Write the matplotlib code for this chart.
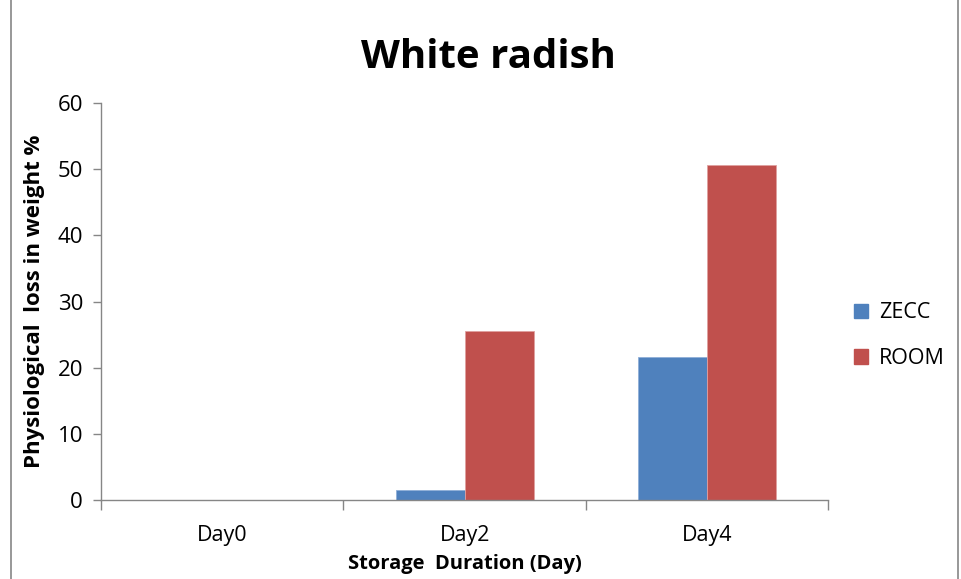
import matplotlib.pyplot as plt
import matplotlib.patches as mpatches
import numpy as np

days = ["Day0", "Day2", "Day4"]
zecc = [0, 1.5, 21.6]
room = [0, 25.5, 50.6]

plt.rcParams['font.family'] = ['Open Sans', 'DejaVu Sans']

fig = plt.figure(figsize=(9.62, 5.79), dpi=100)
ax = fig.add_axes([0.105, 0.1364, 0.756, 0.6856])

x = np.arange(len(days))
w = 0.285
ax.bar(x - w / 2, zecc, w, color="#4F81BD", edgecolor="#8FAFD8", linewidth=0.6, label="ZECC")
ax.bar(x + w / 2, room, w, color="#C0504D", edgecolor="#E0A0A0", linewidth=0.6, label="ROOM")

ax.set_xlim(-0.5, 2.5)
ax.set_ylim(0, 60)
ax.set_yticks(range(0, 61, 10))
ax.set_xticks([-0.5, 0.5, 1.5, 2.5])
ax.set_xticklabels([])
ax.set_xticks(x, minor=True)
ax.set_xticklabels(days, minor=True)
ax.tick_params(axis="x", which="major", length=7, color="#868686", width=1)
ax.tick_params(axis="x", which="minor", length=0, pad=18, labelsize=15.5)
ax.tick_params(axis="y", length=6, color="#868686", width=1, labelsize=16, pad=7)

for s in ["top", "right"]:
    ax.spines[s].set_visible(False)
for s in ["left", "bottom"]:
    ax.spines[s].set_color("#868686")
    ax.spines[s].set_linewidth(1)

ax.set_xlabel("Storage  Duration (Day)", fontsize=14.5, fontweight="bold", labelpad=6)
ax.set_ylabel("Physiological  loss in weight %", fontsize=16, fontweight="bold", labelpad=9)
fig.text(0.508, 0.9, "White radish", ha="center", va="center", fontsize=29, fontweight="bold")

handles = [mpatches.Patch(color="#4F81BD", label="ZECC"),
           mpatches.Patch(color="#C0504D", label="ROOM")]
fig.legend(handles=handles, loc="center left", bbox_to_anchor=(0.868, 0.42), frameon=False,
           fontsize=15.5, handlelength=0.65, handleheight=0.65, handletextpad=0.5, labelspacing=1.15)

fig.patches.append(mpatches.Rectangle((0.011, -0.01), 0.985, 1.2, transform=fig.transFigure,
                                      fill=False, edgecolor="#868686", linewidth=1.2))

fig.savefig("out.png", dpi=100)
